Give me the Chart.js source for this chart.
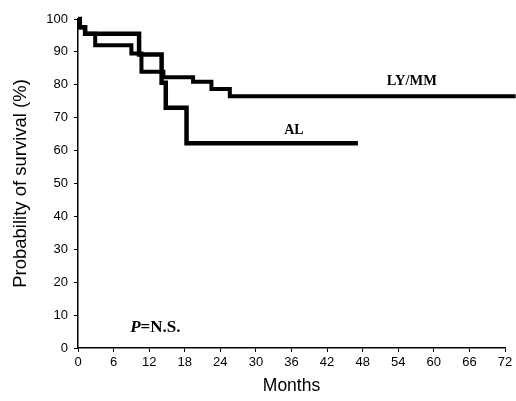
<!DOCTYPE html>
<html>
<head>
<meta charset="utf-8">
<script src="https://cdn.jsdelivr.net/npm/chart.js@4"></script>
<style>
  html, body { margin: 0; padding: 0; background: #fff; }
  #wrap { width: 516px; height: 401px; }
</style>
</head>
<body>
<div id="wrap"><canvas id="survivalChart" width="516" height="401"></canvas></div>
<script>
// Kaplan-Meier steps (month of event, survival % after it)
const lymmMonths = [0, 0.3, 1.2, 2.9, 9.0, 10.7, 14.4, 19.4, 22.5, 25.6, 73.8];
const lymmSurvival = [100, 97.5, 95.5, 92, 89.5, 84, 82.3, 80.9, 78.7, 76.5, 76.5];
const alMonths = [0, 0.3, 1.2, 10.3, 14.1, 14.8, 18.3, 47.2];
const alSurvival = [100, 97.5, 95.5, 89.2, 80.6, 73, 62.2, 62.2];

const xTicks = [0, 6, 12, 18, 24, 30, 36, 42, 48, 54, 60, 66, 72];
const yTicks = [0, 10, 20, 30, 40, 50, 60, 70, 80, 90, 100];

const toPoints = (xs, ys) => xs.map((x, i) => ({ x: x, y: ys[i] }));

// text labels placed in data units
const labels = [
  { text: 'LY/MM', x: 56.3, y: 81, font: 'bold 14.5px "Liberation Serif"' },
  { text: 'AL', x: 36.4, y: 66, font: 'bold 14px "Liberation Serif"' }
];

const textPlugin = {
  id: 'textPlugin',
  afterDatasetsDraw(chart) {
    const ctx = chart.ctx;
    const xs = chart.scales.x, ys = chart.scales.y;
    ctx.save();
    ctx.fillStyle = '#000';
    ctx.textBaseline = 'middle';
    ctx.textAlign = 'center';
    labels.forEach(l => {
      ctx.font = l.font;
      ctx.fillText(l.text, xs.getPixelForValue(l.x), ys.getPixelForValue(l.y));
    });
    // P=N.S. with italic P
    ctx.textAlign = 'left';
    let px = xs.getPixelForValue(8.8);
    const py = ys.getPixelForValue(6.3);
    ctx.font = 'italic bold 17px "Liberation Serif"';
    ctx.fillText('P', px, py);
    px += ctx.measureText('P').width;
    ctx.font = 'bold 17px "Liberation Serif"';
    ctx.fillText('=N.S.', px, py);
    ctx.restore();
  }
};

const ctx = document.getElementById('survivalChart').getContext('2d');

new Chart(ctx, {
  type: 'line',
  data: {
    datasets: [{
      label: 'LY/MM',
      data: toPoints(lymmMonths, lymmSurvival),
      borderColor: '#000',
      borderWidth: 4,
      stepped: true,
      pointRadius: 0,
      clip: false
    }, {
      label: 'AL',
      data: toPoints(alMonths, alSurvival),
      borderColor: '#000',
      borderWidth: 4.5,
      stepped: true,
      pointRadius: 0,
      clip: false
    }]
  },
  options: {
    responsive: false,
    animation: false,
    layout: { padding: { top: 19, right: 11, left: 0, bottom: 0 } },
    plugins: {
      legend: { display: false },
      tooltip: { enabled: false }
    },
    scales: {
      x: {
        type: 'linear',
        min: 0,
        max: 72,
        afterFit: (s) => { s.height = 53; },
        afterBuildTicks: (s) => { s.ticks = xTicks.map(v => ({ value: v })); },
        border: { display: true, color: '#000', width: 1.5 },
        grid: { drawOnChartArea: false, drawTicks: true, tickLength: 4, color: '#000' },
        ticks: {
          color: '#000',
          padding: 3,
          maxRotation: 0,
          autoSkip: false,
          font: { family: '"Liberation Sans", Arial', size: 13 }
        },
        title: {
          display: true,
          text: 'Months',
          color: '#000',
          padding: { top: 0, bottom: 4 },
          font: { family: '"Liberation Sans", Arial', size: 17.5 }
        }
      },
      y: {
        min: 0,
        max: 100,
        afterFit: (s) => { s.width = 78; },
        afterBuildTicks: (s) => { s.ticks = yTicks.map(v => ({ value: v })); },
        border: { display: true, color: '#000', width: 1.5 },
        grid: { drawOnChartArea: false, drawTicks: true, tickLength: 4, color: '#000' },
        ticks: {
          color: '#000',
          padding: 6,
          autoSkip: false,
          font: { family: '"Liberation Sans", Arial', size: 13 }
        },
        title: {
          display: true,
          text: 'Probability of survival (%)',
          color: '#000',
          padding: { top: 10, bottom: 0 },
          font: { family: '"Liberation Sans", Arial', size: 18.5 }
        }
      }
    }
  },
  plugins: [textPlugin]
});
</script>
</body>
</html>
